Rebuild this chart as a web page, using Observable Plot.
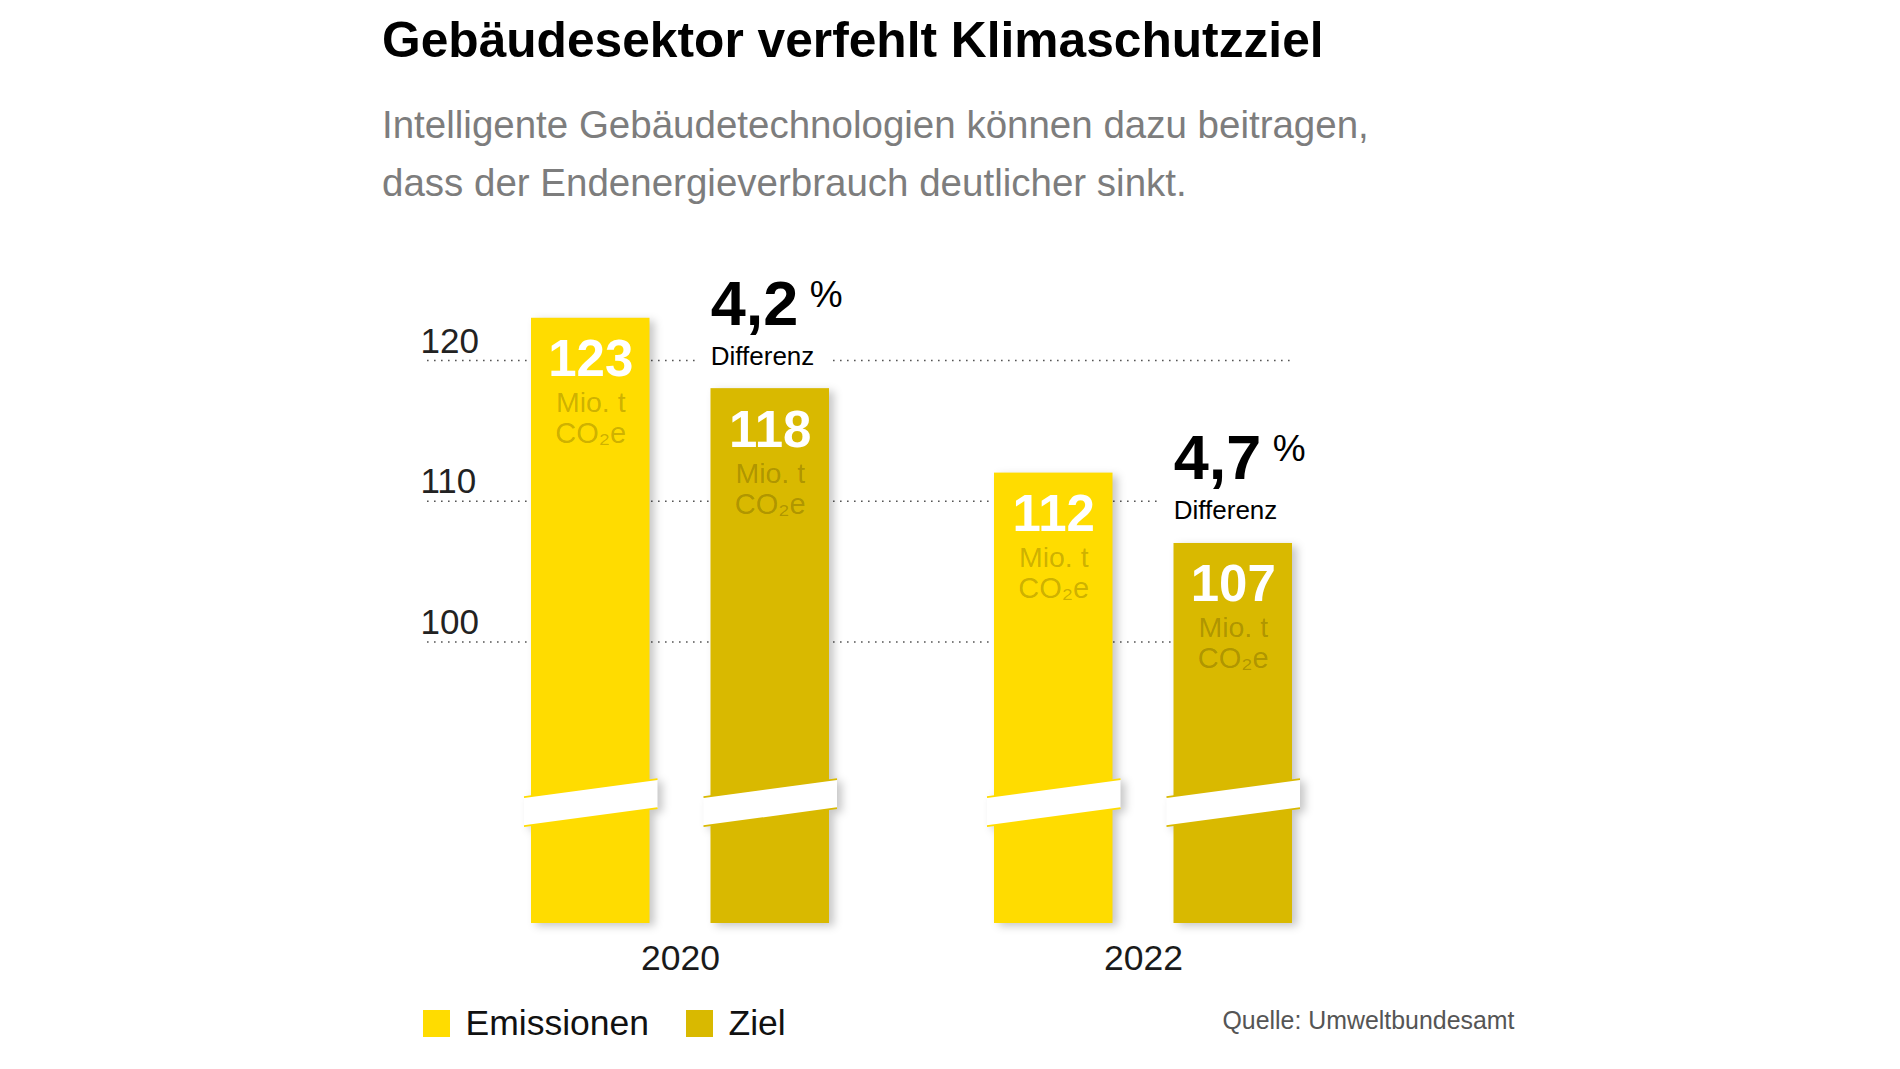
<!DOCTYPE html>
<html>
<head>
<meta charset="utf-8">
<script src="https://cdn.jsdelivr.net/npm/d3@7"></script>
<script src="https://cdn.jsdelivr.net/npm/@observablehq/plot@0.6"></script>
<style>
  html, body { margin: 0; padding: 0; background: #fff; }
  #root { position: relative; width: 1900px; height: 1069px; overflow: hidden;
          font-family: "Liberation Sans", Arial, sans-serif; }
  .abs { position: absolute; white-space: nowrap; }
  #title { left: 382px; top: 16px; font-size: 49.7px; line-height: 49.7px; font-weight: bold; color: #000; }
  #subtitle { left: 382px; top: 96px; font-size: 38.5px; line-height: 58px; color: #7d7d7d; }
  #chart { position: absolute; left: 0; top: 230px; }
  #legend { left: 423px; top: 1003px; height: 41px; display: flex; align-items: center; }
  #legend .sw { width: 27px; height: 27px; margin-right: 15.5px; }
  #legend .lb { font-size: 35.5px; line-height: 35.5px; color: #111; margin-right: 37px; }
  #source { left: 1222.5px; top: 1008.4px; font-size: 24.9px; line-height: 24.9px; color: #555; }
</style>
</head>
<body>
<div id="root">
  <div id="title" class="abs"></div>
  <div id="subtitle" class="abs"></div>
  <div id="chart"></div>
  <div id="legend" class="abs"></div>
  <div id="source" class="abs"></div>
</div>
<script>
// ---- data ----
const titleText = "Gebäudesektor verfehlt Klimaschutzziel";
const subtitleLines = [
  "Intelligente Gebäudetechnologien können dazu beitragen,",
  "dass der Endenergieverbrauch deutlicher sinkt."
];
const sourceText = "Quelle: Umweltbundesamt";
const years = [2020, 2022];
const seriesNames = ["Emissionen", "Ziel"];
const emissionen = [123, 112];
const ziel = [118, 107];
const differenz = ["4,2", "4,7"];
const differenzLabel = "Differenz";
const yTicks = [100, 110, 120];
const yDomain = [80, 125];
const axisBreak = 88.55;
const unitLine1 = "Mio. t";
const unitLine2 = "CO₂e";
const colors = ["#FFDC00", "#D9B900"];

// ---- text ----
document.getElementById("title").textContent = titleText;
document.getElementById("subtitle").innerHTML = subtitleLines.map(s => s.replace(/&/g, "&amp;")).join("<br>");
document.getElementById("source").textContent = sourceText;
const legend = document.getElementById("legend");
seriesNames.forEach((name, i) => {
  const sw = document.createElement("div");
  sw.className = "sw";
  sw.style.background = colors[i];
  const lb = document.createElement("div");
  lb.className = "lb";
  lb.textContent = name;
  legend.appendChild(sw);
  legend.appendChild(lb);
});

// ---- tables ----
const rows = years.flatMap((year, i) => [
  {year, series: seriesNames[0], value: emissionen[i]},
  {year, series: seriesNames[1], value: ziel[i]}
]);
const diffRows = years.map((year, i) => ({year, ziel: ziel[i], diff: differenz[i]}));

const ns = "http://www.w3.org/2000/svg";
function breakRender(index, scales, values, dimensions, context, next) {
  const g = next(index, scales, values, dimensions, context);
  if (!g) return g;
  g.style.filter = "drop-shadow(5px 3px 4px rgba(0,0,0,0.22))";
  const yc = scales.y(axisBreak);
  const rise = 9, half = 14.5;
  for (const rect of Array.from(g.querySelectorAll("rect"))) {
    const x = +rect.getAttribute("x"), w = +rect.getAttribute("width");
    const fill = rect.getAttribute("fill") || g.getAttribute("fill");
    const x0 = x - 7, x1 = x + w + 8;
    const poly = document.createElementNS(ns, "polygon");
    poly.setAttribute("points", [
      [x0, yc + rise - half], [x1, yc - rise - half],
      [x1, yc - rise + half], [x0, yc + rise + half]
    ].map(p => p.join(",")).join(" "));
    poly.setAttribute("fill", "#fff");
    g.appendChild(poly);
    for (const s of [-1, 1]) {
      const ln = document.createElementNS(ns, "line");
      ln.setAttribute("x1", x0); ln.setAttribute("y1", yc + rise + s * half);
      ln.setAttribute("x2", x1); ln.setAttribute("y2", yc - rise + s * half);
      ln.setAttribute("stroke", fill);
      ln.setAttribute("stroke-width", 1.6);
      g.appendChild(ln);
    }
  }
  return g;
}

const barWidth = 119;
const bandW = 298.5;
function seriesMarks(name, i) {
  const data = rows.filter(d => d.series === name);
  const off = i === 0 ? -(bandW - barWidth) / 2 : (bandW - barWidth) / 2;
  const inset = i === 0 ? {insetRight: bandW - barWidth} : {insetLeft: bandW - barWidth};
  return [
    Plot.barY(data, {x: "year", y1: yDomain[0], y2: "value", fill: "series", ...inset, render: breakRender}),
    Plot.text(data, {x: "year", y: "value", text: d => String(d.value), dx: off, dy: 58,
      lineAnchor: "bottom", fontSize: 51, fontWeight: "bold", fill: "#fff"}),
    Plot.text(data, {x: "year", y: "value", text: () => unitLine1, dx: off, dy: 94,
      lineAnchor: "bottom", fontSize: 28.5, fill: "#000", fillOpacity: 0.21}),
    Plot.text(data, {x: "year", y: "value", text: () => unitLine2, dx: off, dy: 125,
      lineAnchor: "bottom", fontSize: 29, fill: "#000", fillOpacity: 0.21})
  ];
}

const zielLeft = (bandW - barWidth) / 2 - barWidth / 2;

const chart = Plot.plot({
  width: 1900,
  height: 770,
  marginLeft: 427,
  marginRight: 608,
  marginTop: 59.625,
  marginBottom: 77,
  style: {fontFamily: "'Liberation Sans', Arial, sans-serif", background: "transparent", overflow: "visible"},
  x: {type: "band", domain: years, paddingInner: 0.356681, paddingOuter: 0.110453, align: 1, axis: null},
  y: {domain: yDomain, axis: null},
  color: {domain: seriesNames, range: colors},
  marks: [
    Plot.ruleY(yTicks, {stroke: "#555", strokeWidth: 1.6, strokeDasharray: "1.6,5.4"}),
    Plot.text(yTicks, {y: d => d, text: d => String(d), frameAnchor: "left", textAnchor: "start",
      lineAnchor: "bottom", dx: -7, dy: -8, fontSize: 35, fill: "#222"}),
    Plot.text(years, {x: d => d, text: d => String(d), frameAnchor: "bottom", lineAnchor: "bottom",
      dy: 46, fontSize: 35.5, fill: "#1a1a1a"}),
    Plot.text(diffRows, {x: "year", y: "ziel", text: () => differenzLabel, dx: zielLeft, dy: -24,
      textAnchor: "start", lineAnchor: "bottom", fontSize: 26, fill: "#000", stroke: "#fff", strokeWidth: 32}),
    Plot.text(diffRows, {x: "year", y: "ziel", text: "diff", dx: zielLeft, dy: -64,
      textAnchor: "start", lineAnchor: "bottom", fontSize: 63, fontWeight: "bold", fill: "#000"}),
    Plot.text(diffRows, {x: "year", y: "ziel", text: () => "%", dx: zielLeft + 99, dy: -82,
      textAnchor: "start", lineAnchor: "bottom", fontSize: 37, fill: "#000"}),
    ...seriesNames.flatMap((name, i) => seriesMarks(name, i))
  ]
});
document.getElementById("chart").appendChild(chart);
</script>
</body>
</html>
